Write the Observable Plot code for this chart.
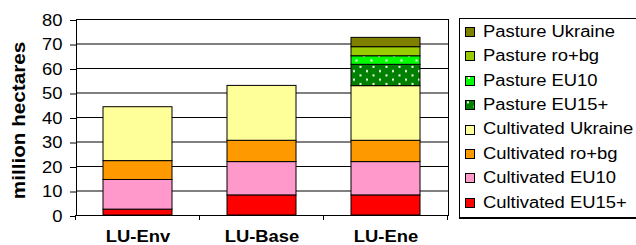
<!DOCTYPE html>
<html><head><meta charset="utf-8">
<script src="https://cdn.jsdelivr.net/npm/d3@7"></script>
<script src="https://cdn.jsdelivr.net/npm/@observablehq/plot@0.6"></script>
<style>
body{margin:0;background:#fff;}
#wrap{position:relative;width:636px;height:245px;overflow:hidden;font-family:"Liberation Sans",Arial,sans-serif;color:#000;}
#legend{position:absolute;left:459px;top:18px;width:180px;height:201px;border:1px solid #000;border-bottom-width:2px;box-sizing:border-box;background:#fff;}
.sw{position:absolute;left:465px;width:10px;height:10px;}
.lt{position:absolute;left:483px;font-size:16px;line-height:16px;white-space:nowrap;transform:scaleX(1.15);transform-origin:left center;}
</style>
</head><body>
<div id="wrap"></div>
<script>
const scenarios = ["LU-Env", "LU-Base", "LU-Ene"];
const series = ["Cultivated EU15+", "Cultivated EU10", "Cultivated ro+bg", "Cultivated Ukraine",
                "Pasture EU15+", "Pasture EU10", "Pasture ro+bg", "Pasture Ukraine"];
const colors = ["#ff0000", "#ff99cc", "#ff9900", "#ffff99", "url(#patEU15)", "url(#patEU10)", "#99cc00", "#808000"];
const luEnv  = [2.4, 12.1, 7.7, 22.0, 0, 0, 0, 0];
const luBase = [8.2, 13.6, 8.7, 22.4, 0, 0, 0, 0];
const luEne  = [8.2, 13.6, 8.7, 22.3, 8.7, 3.5, 3.7, 3.8];
const yTicks = [0, 10, 20, 30, 40, 50, 60, 70, 80];
const yLabel = "million hectares";

const valuesByScenario = [luEnv, luBase, luEne];
const data = [];
scenarios.forEach((s, si) => series.forEach((k, ki) => {
  const v = valuesByScenario[si][ki];
  if (v > 0) data.push({scenario: s, series: k, value: v});
}));

const chart = Plot.plot({
  width: 636, height: 245,
  marginLeft: 76, marginRight: 188, marginTop: 19, marginBottom: 30,
  style: {fontFamily: "'Liberation Sans', Arial, sans-serif", fontSize: "16px", color: "#000", background: "#fff", overflow: "visible"},
  x: {domain: scenarios, paddingInner: 0.44, paddingOuter: 0.22, label: null},
  y: {domain: [0, 80], label: null},
  color: {domain: series, range: colors},
  marks: [
    Plot.gridY(yTicks, {stroke: "#000", strokeOpacity: 1}),
    Plot.barY(data, {x: "scenario", y: "value", fill: "series", stroke: "#000", strokeWidth: 1}),
    Plot.frame({stroke: "#000"}),
    Plot.axisY(yTicks, {tickSize: 6, tickPadding: 8, fontSize: 16, label: null, dy: 1, stroke: "#000"}),
    Plot.axisX({tickSize: 0, tickPadding: 15, fontSize: 16, fontWeight: "bold", label: null}),
    Plot.text([yLabel], {text: d => d, frameAnchor: "left", textAnchor: "middle", lineAnchor: "middle", rotate: -90, dx: -57, dy: 3, fontSize: 18, fontWeight: "bold"})
  ]
});

const svg = d3.select(chart);
// patterns
const defs = svg.insert("defs", ":first-child");
const p1 = defs.append("pattern").attr("id", "patEU15").attr("patternUnits", "userSpaceOnUse")
  .attr("width", 13).attr("height", 8.6);
p1.append("rect").attr("width", 13).attr("height", 8.6).attr("fill", "#008000");
p1.append("rect").attr("x", 2).attr("y", 1.3).attr("width", 2).attr("height", 2).attr("fill", "#fff");
p1.append("rect").attr("x", 8.5).attr("y", 5.6).attr("width", 2).attr("height", 2).attr("fill", "#fff");
const p2 = defs.append("pattern").attr("id", "patEU10").attr("patternUnits", "userSpaceOnUse")
  .attr("width", 15).attr("height", 9);
p2.append("rect").attr("width", 15).attr("height", 9).attr("fill", "#00ff00");
p2.append("rect").attr("x", 3).attr("y", 1).attr("width", 2).attr("height", 2).attr("fill", "#fff");
p2.append("rect").attr("x", 10.5).attr("y", 5.5).attr("width", 2).attr("height", 2).attr("fill", "#fff");

// widen text horizontally like the original
svg.selectAll("text").each(function() {
  const t = this.getAttribute("transform") || "";
  this.setAttribute("transform", t + " scale(1.15,1)");
});

// category boundary ticks on the x axis
const xs = chart.scale("x"), ys = chart.scale("y");
const gap = xs.step - xs.bandwidth;
const bounds = scenarios.map(d => xs.apply(d) - gap / 2)
  .concat([xs.apply(scenarios[scenarios.length - 1]) + xs.bandwidth + gap / 2]);
const y0 = ys.apply(0);
svg.append("g").attr("stroke", "#000").selectAll("line").data(bounds).join("line")
  .attr("x1", d => d).attr("x2", d => d).attr("y1", y0).attr("y2", y0 + 5);

const wrap = document.getElementById("wrap");
wrap.appendChild(chart);

// legend
const legend = document.createElement("div");
legend.id = "legend";
wrap.appendChild(legend);
const legendOrder = series.map((s, i) => i).reverse();
legendOrder.forEach((idx, row) => {
  const cy = 31.5 + row * 24.4;
  const sw = document.createElementNS("http://www.w3.org/2000/svg", "svg");
  sw.setAttribute("class", "sw");
  sw.setAttribute("width", 10); sw.setAttribute("height", 10);
  sw.style.top = (cy - 4.5) + "px";
  const r = document.createElementNS("http://www.w3.org/2000/svg", "rect");
  r.setAttribute("x", 0.5); r.setAttribute("y", 0.5); r.setAttribute("width", 9); r.setAttribute("height", 9);
  r.setAttribute("fill", colors[idx]); r.setAttribute("stroke", "#000");
  sw.appendChild(r);
  wrap.appendChild(sw);
  const t = document.createElement("div");
  t.className = "lt";
  t.textContent = series[idx];
  t.style.top = (cy - 7.8) + "px";
  wrap.appendChild(t);
});
</script>
</body></html>
